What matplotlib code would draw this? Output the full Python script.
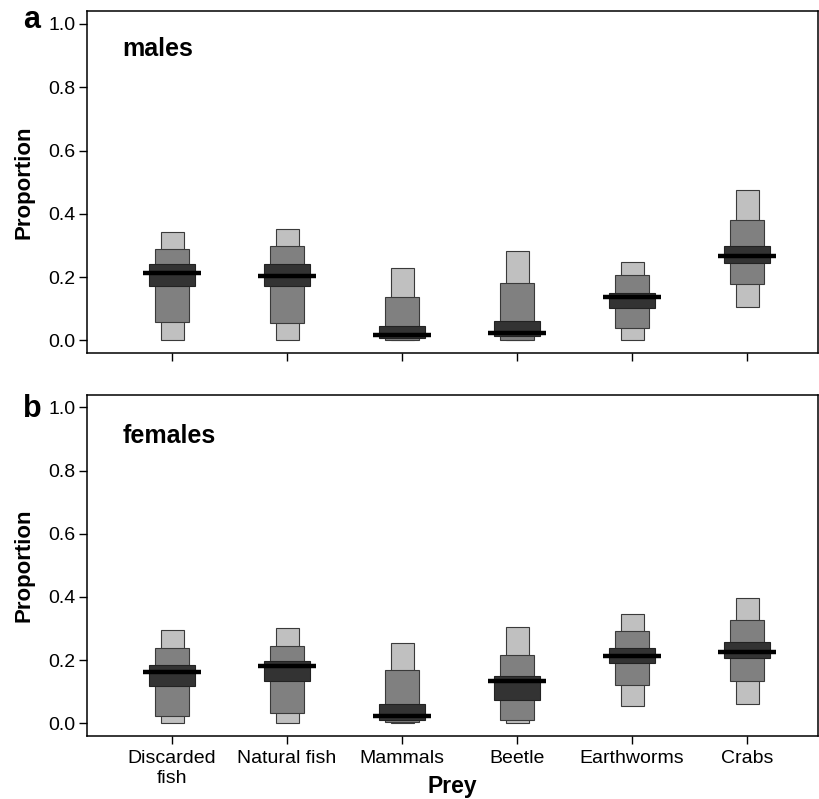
import numpy as np
import matplotlib.pyplot as plt

plt.rcParams['font.family'] = ['Liberation Sans', 'DejaVu Sans']

prey = ['Discarded\nfish', 'Natural fish', 'Mammals', 'Beetle', 'Earthworms', 'Crabs']

# males: credible intervals (95 / 75 / 50 %) and mode
males_lo95 = [0.0, 0.0, 0.0, 0.0, 0.002, 0.105]
males_hi95 = [0.343, 0.353, 0.230, 0.284, 0.248, 0.476]
males_lo75 = [0.058, 0.055, 0.0, 0.002, 0.039, 0.178]
males_hi75 = [0.290, 0.297, 0.137, 0.181, 0.206, 0.380]
males_lo50 = [0.173, 0.173, 0.009, 0.013, 0.102, 0.244]
males_hi50 = [0.241, 0.241, 0.046, 0.062, 0.150, 0.300]
males_mode = [0.213, 0.203, 0.017, 0.024, 0.137, 0.268]

# females
females_lo95 = [0.0, 0.0, 0.0, 0.0, 0.056, 0.060]
females_hi95 = [0.296, 0.302, 0.255, 0.304, 0.347, 0.396]
females_lo75 = [0.024, 0.031, 0.003, 0.011, 0.122, 0.134]
females_hi75 = [0.237, 0.243, 0.170, 0.215, 0.293, 0.326]
females_lo50 = [0.119, 0.134, 0.011, 0.074, 0.190, 0.208]
females_hi50 = [0.183, 0.197, 0.061, 0.148, 0.237, 0.257]
females_mode = [0.161, 0.180, 0.023, 0.135, 0.212, 0.227]

x = np.arange(1, len(prey) + 1)


def draw_panel(ax, lo95, hi95, lo75, hi75, lo50, hi50, mode):
    lo95, hi95 = np.array(lo95), np.array(hi95)
    lo75, hi75 = np.array(lo75), np.array(hi75)
    lo50, hi50 = np.array(lo50), np.array(hi50)
    ax.bar(x, hi95 - lo95, bottom=lo95, width=0.2, color='#c0c0c0',
           edgecolor='#3a3a3a', linewidth=0.8, zorder=2)
    ax.bar(x, hi75 - lo75, bottom=lo75, width=0.3, color='#808080',
           edgecolor='#3a3a3a', linewidth=0.8, zorder=3)
    ax.bar(x, hi50 - lo50, bottom=lo50, width=0.4, color='#333333',
           edgecolor='#222222', linewidth=0.8, zorder=4)
    ax.hlines(mode, x - 0.25, x + 0.25, color='black', linewidth=3.2, zorder=5)
    ax.set_xlim(0.26, 6.62)
    ax.set_ylim(-0.04, 1.04)
    ax.set_yticks([0.0, 0.2, 0.4, 0.6, 0.8, 1.0])
    ax.set_yticklabels(['0.0', '0.2', '0.4', '0.6', '0.8', '1.0'])
    ax.set_xticks(x)
    ax.tick_params(direction='out', length=6, width=1, labelsize=14, pad=2)
    for s in ax.spines.values():
        s.set_linewidth(1.1)
    ax.set_ylabel('Proportion', fontsize=16, fontweight='bold', labelpad=10)


fig = plt.figure(figsize=(8.2, 7.99), dpi=100)
ax1 = fig.add_axes([0.106, 0.558, 0.892, 0.428])
ax2 = fig.add_axes([0.106, 0.079, 0.892, 0.427])

draw_panel(ax1, males_lo95, males_hi95, males_lo75, males_hi75,
           males_lo50, males_hi50, males_mode)
ax1.set_xticklabels([])
ax1.text(0.57, 0.92, 'males', fontsize=18, fontweight='bold', va='center')

draw_panel(ax2, females_lo95, females_hi95, females_lo75, females_hi75,
           females_lo50, females_hi50, females_mode)
ax2.set_xticklabels(prey, fontsize=14, linespacing=1.25)
ax2.tick_params(axis='x', pad=4)
ax2.text(0.57, 0.91, 'females', fontsize=18, fontweight='bold', va='center')

# axis title sits beside the second line of "Discarded fish"
fig.text(0.552, 0.016, 'Prey', fontsize=16.5, fontweight='bold',
         ha='center', va='center')

fig.text(0.028, 0.975, 'a', fontsize=22, fontweight='bold', va='center')
fig.text(0.028, 0.488, 'b', fontsize=22, fontweight='bold', va='center')

fig.savefig('out.png', dpi=100)
